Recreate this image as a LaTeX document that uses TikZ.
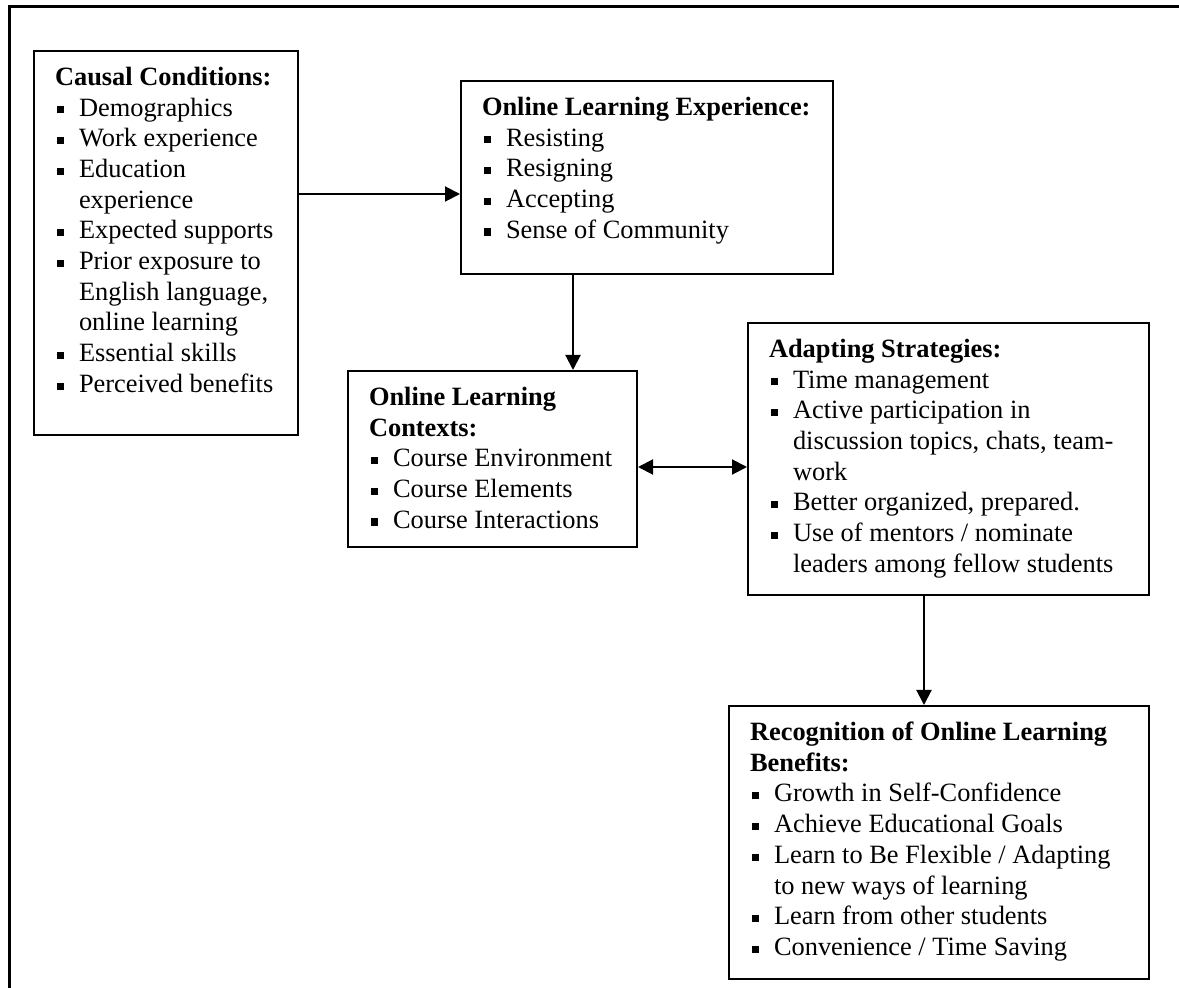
\documentclass[tikz,border=0pt]{standalone}
\usepackage{fontspec}
\setmainfont{Liberation Serif}
\usetikzlibrary{arrows.meta,positioning,calc}

%% small square bullet with hanging indent
\newcommand{\bitem}[1]{\par\noindent\hangindent=12pt\hangafter=1%
  \makebox[12pt][l]{\hspace{1pt}\raisebox{1.3pt}{\rule{3.6pt}{3.6pt}}}#1}
%% box body: height, width, contents (top aligned)
\newcommand{\boxtext}[3]{\hspace*{10.5pt}%
  \parbox[c][#1][t]{\dimexpr#2-10.5pt\relax}{\raggedright\vspace*{8pt}#3}}

\begin{document}
\begin{tikzpicture}[x=0.5pt,y=-0.5pt,
    box/.style={draw,line width=1pt,inner sep=0pt,anchor=north west,
                font=\fontsize{13.2}{15.35}\selectfont},
    arr/.style={line width=1pt,-{Triangle[length=7.5pt,width=7.5pt]}},
    dblarr/.style={line width=1pt,{Triangle[length=7.5pt,width=7.5pt]}-{Triangle[length=7.5pt,width=7.5pt]}}]
  \useasboundingbox (0,0) rectangle (1179,988);

  %% outer frame
  \draw[line width=1.5pt] (9,990) -- (9,7) -- (1181,7);

  %% Causal conditions
  \node[box] (cause) at (33,50) {\boxtext{192pt}{132pt}{%
    \textbf{Causal Conditions:}
    \bitem{Demographics}
    \bitem{Work experience}
    \bitem{Education\newline experience}
    \bitem{Expected supports}
    \bitem{Prior exposure to\newline English language,\newline online learning}
    \bitem{Essential skills}
    \bitem{Perceived benefits}}};

  %% Experience
  \node[box] (exper) at (460,80) {\boxtext{96.5pt}{186pt}{%
    \mbox{\textbf{Online Learning Experience:}}
    \bitem{Resisting}
    \bitem{Resigning}
    \bitem{Accepting}
    \bitem{Sense of Community}}};

  %% Contexts
  \node[box] (ctx) at (347,370) {\boxtext{88pt}{144.5pt}{%
    \textbf{Online Learning\newline Contexts:}
    \bitem{Course Environment}
    \bitem{Course Elements}
    \bitem{Course Interactions}}};

  %% Adapting strategies
  \node[box] (adapt) at (747,322) {\boxtext{136pt}{200.5pt}{%
    \textbf{Adapting Strategies:}
    \bitem{Time management}
    \bitem{Active participation in\newline discussion topics, chats, team-\newline work}
    \bitem{Better organized, prepared.}
    \bitem{Use of mentors / nominate\newline leaders among fellow students}}};

  %% Recognition of benefits
  \node[box] (recog) at (728,705) {\boxtext{136.5pt}{210pt}{%
    \textbf{Recognition of Online Learning\newline Benefits:}
    \bitem{Growth in Self-Confidence}
    \bitem{Achieve Educational Goals}
    \bitem{Learn to Be Flexible / Adapting\newline to new ways of learning}
    \bitem{Learn from other students}
    \bitem{Convenience / Time Saving}}};

  %% Arrows
  \coordinate (experin) at ([yshift=-8.25pt]exper.west);
  \coordinate (ctxin) at ([xshift=40.25pt]ctx.north);
  \coordinate (ctxout) at ([yshift=-4pt]ctx.east);
  \coordinate (recogin) at ([xshift=-7.5pt]recog.north);
  \draw[arr] (cause.east |- experin) -- (experin);
  \draw[arr] (exper.south -| ctxin) -- (ctxin);
  \draw[dblarr] (ctxout) -- (adapt.west |- ctxout);
  \draw[arr] (adapt.south -| recogin) -- (recogin);
\end{tikzpicture}
\end{document}
